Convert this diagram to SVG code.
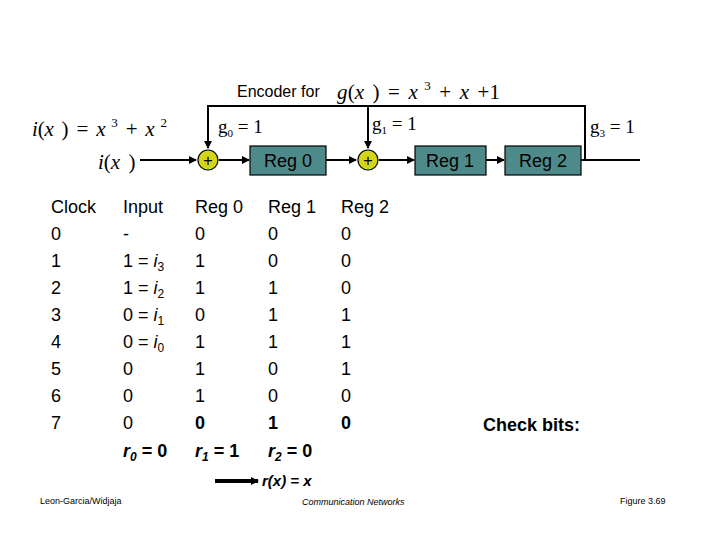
<svg xmlns="http://www.w3.org/2000/svg" width="720" height="540" viewBox="0 0 720 540">
<style>
text{font-family:"Liberation Sans",Arial,sans-serif;fill:#000}
.t{font-size:18px}
.b{font-size:18px;font-weight:bold}
.m{font-family:"Liberation Serif","Times New Roman",serif;font-size:19px}
.mi{font-family:"Liberation Serif","Times New Roman",serif;font-size:21px;font-style:italic;word-spacing:3px}
.box{fill:#4f8a8b;stroke:#000;stroke-width:1.2}
.add{fill:#d4d418;stroke:#000;stroke-width:1.2}
.ln{stroke:#000;stroke-width:2;fill:none}
</style>
<defs><marker id="a" markerWidth="8" markerHeight="8" refX="7" refY="4" orient="auto" markerUnits="userSpaceOnUse"><path d="M0,0L8,4L0,8z"/></marker></defs>
<text x="237" y="97" font-size="16">Encoder for</text>
<text x="337" y="99" class="mi" textLength="163">g<tspan font-style="normal">(</tspan>x <tspan font-style="normal">)  =  </tspan>x<tspan dy="-9" font-size="13" font-style="normal"> 3</tspan><tspan dy="9" font-style="normal"> + </tspan>x<tspan font-style="normal">  +1</tspan></text>
<text x="32" y="136" class="mi" textLength="135">i<tspan font-style="normal">(</tspan>x <tspan font-style="normal">)  =  </tspan>x<tspan dy="-9" font-size="13" font-style="normal"> 3</tspan><tspan dy="9" font-style="normal"> + </tspan>x<tspan dy="-9" font-size="13" font-style="normal"> 2</tspan></text>
<text x="98" y="169" class="mi">i<tspan font-style="normal">(</tspan>x <tspan font-style="normal">)</tspan></text>
<text x="218" y="133" class="m" font-size="17">g<tspan font-size="11" dy="4">0</tspan><tspan dy="-4"> = 1</tspan></text>
<text x="372" y="130" class="m" font-size="17">g<tspan font-size="11" dy="4">1</tspan><tspan dy="-4"> = 1</tspan></text>
<text x="590" y="133" class="m" font-size="17">g<tspan font-size="11" dy="4">3</tspan><tspan dy="-4"> = 1</tspan></text>
<g id="connectors">
<path class="ln" d="M140,160H196" marker-end="url(#a)"/>
<path class="ln" d="M219,160H249" marker-end="url(#a)"/>
<path class="ln" d="M326,160H356" marker-end="url(#a)"/>
<path class="ln" d="M379,160H414" marker-end="url(#a)"/>
<path class="ln" d="M486,160H504" marker-end="url(#a)"/>
<path class="ln" d="M581,160H640"/>
<path class="ln" d="M585,160V106H208V148" marker-end="url(#a)"/>
<path class="ln" d="M368,106V148" marker-end="url(#a)"/>
<path d="M215,481H258" stroke="#000" stroke-width="4" marker-end="url(#a)"/>
</g>
<g id="add0"><circle class="add" cx="208" cy="160" r="10"/><text x="208" y="166" font-size="16" text-anchor="middle">+</text></g>
<g id="reg0"><rect class="box" x="250" y="146" width="76" height="29"/><text x="288" y="167" class="t" text-anchor="middle">Reg 0</text></g>
<g id="add1"><circle class="add" cx="368" cy="160" r="10"/><text x="368" y="166" font-size="16" text-anchor="middle">+</text></g>
<g id="reg1"><rect class="box" x="415" y="146" width="71" height="29"/><text x="450" y="167" class="t" text-anchor="middle">Reg 1</text></g>
<g id="reg2"><rect class="box" x="505" y="146" width="76" height="29"/><text x="543" y="167" class="t" text-anchor="middle">Reg 2</text></g>
<g id="table" class="t">
<text x="51" y="213" class="t">Clock</text><text x="123" y="213" class="t">Input</text><text x="195" y="213" class="t">Reg 0</text><text x="268" y="213" class="t">Reg 1</text><text x="341" y="213" class="t">Reg 2</text>
<text x="51" y="240" class="t">0</text><text x="123" y="240" class="t">-</text><text x="195" y="240" class="t">0</text><text x="268" y="240" class="t">0</text><text x="341" y="240" class="t">0</text>
<text x="51" y="267" class="t">1</text><text x="123" y="267" class="t">1 = <tspan font-style="italic">i</tspan><tspan font-size="12" dy="4">3</tspan></text><text x="195" y="267" class="t">1</text><text x="268" y="267" class="t">0</text><text x="341" y="267" class="t">0</text>
<text x="51" y="294" class="t">2</text><text x="123" y="294" class="t">1 = <tspan font-style="italic">i</tspan><tspan font-size="12" dy="4">2</tspan></text><text x="195" y="294" class="t">1</text><text x="268" y="294" class="t">1</text><text x="341" y="294" class="t">0</text>
<text x="51" y="321" class="t">3</text><text x="123" y="321" class="t">0 = <tspan font-style="italic">i</tspan><tspan font-size="12" dy="4">1</tspan></text><text x="195" y="321" class="t">0</text><text x="268" y="321" class="t">1</text><text x="341" y="321" class="t">1</text>
<text x="51" y="348" class="t">4</text><text x="123" y="348" class="t">0 = <tspan font-style="italic">i</tspan><tspan font-size="12" dy="4">0</tspan></text><text x="195" y="348" class="t">1</text><text x="268" y="348" class="t">1</text><text x="341" y="348" class="t">1</text>
<text x="51" y="375" class="t">5</text><text x="123" y="375" class="t">0</text><text x="195" y="375" class="t">1</text><text x="268" y="375" class="t">0</text><text x="341" y="375" class="t">1</text>
<text x="51" y="402" class="t">6</text><text x="123" y="402" class="t">0</text><text x="195" y="402" class="t">1</text><text x="268" y="402" class="t">0</text><text x="341" y="402" class="t">0</text>
<text x="51" y="429" class="t">7</text><text x="123" y="429" class="t">0</text><text x="195" y="429" class="b">0</text><text x="268" y="429" class="b">1</text><text x="341" y="429" class="b">0</text>
<text x="123" y="457" class="b"><tspan font-style="italic">r</tspan><tspan font-size="12" dy="4" font-style="italic">0</tspan><tspan dy="-4"> = 0</tspan></text>
<text x="195" y="457" class="b"><tspan font-style="italic">r</tspan><tspan font-size="12" dy="4" font-style="italic">1</tspan><tspan dy="-4"> = 1</tspan></text>
<text x="268" y="457" class="b"><tspan font-style="italic">r</tspan><tspan font-size="12" dy="4" font-style="italic">2</tspan><tspan dy="-4"> = 0</tspan></text>
</g>
<text x="483" y="431" class="b">Check bits:</text>
<text x="262" y="486" font-size="15" font-weight="bold" font-style="italic">r(x) = x</text>
<text x="40" y="504" font-size="9">Leon-Garcia/Widjaja</text>
<text x="302" y="505" font-size="9" font-style="italic">Communication Networks</text>
<text x="620" y="504" font-size="9">Figure 3.69</text>
</svg>
